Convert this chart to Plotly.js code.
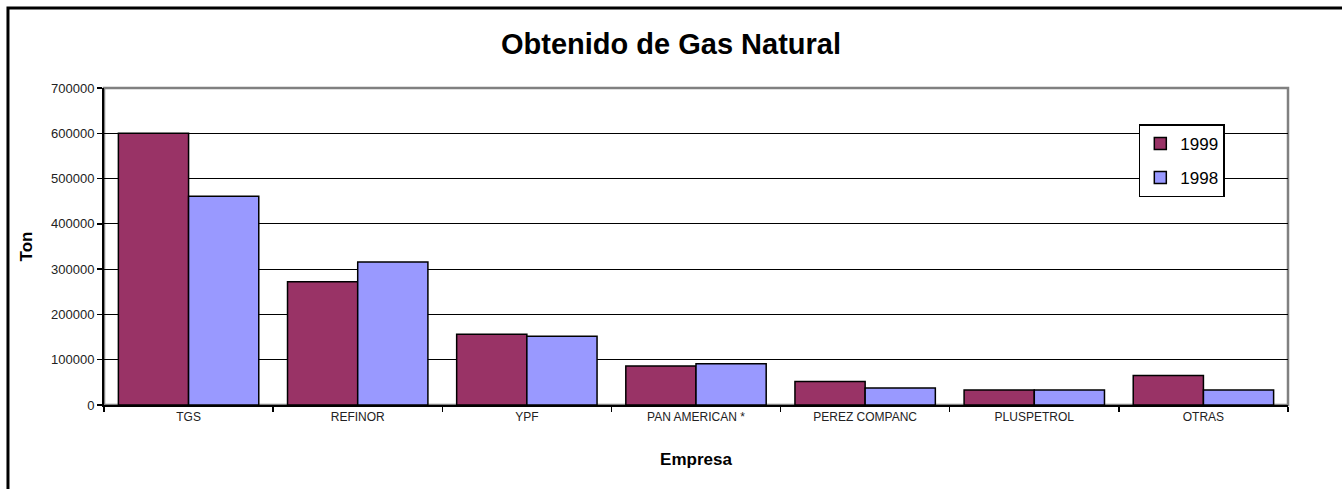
<!DOCTYPE html>
<html>
<head>
<meta charset="utf-8">
<script src="https://cdn.plot.ly/plotly-3.0.1.min.js"></script>
<style>
  html, body { margin: 0; padding: 0; background: #fff; }
  #chart { width: 1342px; height: 489px; }
</style>
</head>
<body>
<div id="chart"></div>
<script>
var empresas = ['TGS', 'REFINOR', 'YPF', 'PAN AMERICAN *', 'PEREZ COMPANC', 'PLUSPETROL', 'OTRAS'];
var ton1999 = [600000, 272000, 156000, 86000, 52000, 33000, 65000];
var ton1998 = [461000, 316000, 152000, 91000, 37500, 33000, 33000];

var traces = [
  { x: empresas, y: ton1999, name: '1999', type: 'bar', legendgroup: 'a',
    marker: {color: '#993366', line: {color: '#000', width: 1.5}} },
  { x: empresas, y: ton1998, name: '1998', type: 'bar', legendgroup: 'b',
    marker: {color: '#9999FF', line: {color: '#000', width: 1.5}} }
];

var layout = {
  width: 1342, height: 489,
  margin: {l: 104, r: 54, t: 88, b: 84},
  paper_bgcolor: '#fff', plot_bgcolor: '#fff',
  font: {family: 'Liberation Sans, Arial, sans-serif', color: '#000'},
  title: {text: '<b>Obtenido de Gas Natural</b>', font: {size: 29}, x: 0.5, xanchor: 'center', y: 0.91, yanchor: 'middle'},
  barmode: 'group', bargap: 0.17, bargroupgap: 0,
  showlegend: true,
  legend: {x: 0.874, y: 0.885, xanchor: 'left', yanchor: 'top',
           bgcolor: '#fff', bordercolor: '#000', borderwidth: 1.5,
           font: {size: 17}, traceorder: 'grouped', tracegroupgap: 9, itemwidth: 30},
  xaxis: {
    type: 'category',
    title: {text: '<b>Empresa</b>', font: {size: 17}, standoff: 30},
    tickfont: {size: 12, color: '#222'},
    showline: true, linecolor: '#000', linewidth: 2,
    ticks: 'outside', tickson: 'boundaries', ticklen: 5, tickcolor: '#000', tickwidth: 1.5,
    showgrid: false, automargin: false, fixedrange: true
  },
  yaxis: {
    range: [0, 700000], dtick: 100000, tickformat: 'd',
    title: {text: '<b>Ton</b>', font: {size: 17}, standoff: 14},
    tickfont: {size: 13, color: '#222'},
    showline: true, linecolor: '#000', linewidth: 2,
    ticks: 'outside', ticklen: 5, tickcolor: '#000', tickwidth: 1.5,
    showgrid: true, gridcolor: '#000', gridwidth: 1,
    zeroline: false, automargin: false, fixedrange: true
  },
  shapes: [
    {type: 'rect', xref: 'paper', yref: 'paper', x0: 0, x1: 1, y0: 0, y1: 1,
     line: {color: '#808080', width: 2.5}, layer: 'below'},
    {type: 'rect', xref: 'paper', yref: 'paper', x0: -0.0811, x1: 1.2, y0: -0.4, y1: 1.2524,
     line: {color: '#000', width: 3}, layer: 'below'}
  ]
};

Plotly.newPlot('chart', traces, layout, {displayModeBar: false, staticPlot: true});
</script>
</body>
</html>
